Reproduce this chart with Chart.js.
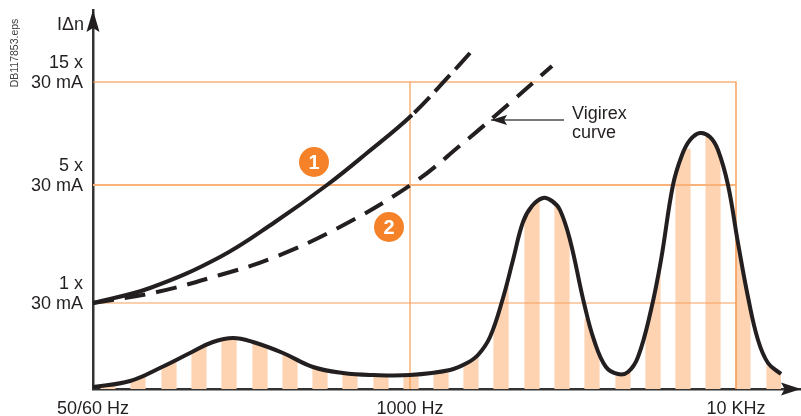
<!DOCTYPE html>
<html>
<head>
<meta charset="utf-8">
<style>
  html, body { margin: 0; padding: 0; background: #fff; }
  canvas { display: block; }
</style>
<script src="https://cdn.jsdelivr.net/npm/chart.js@4/dist/chart.umd.min.js"></script>
</head>
<body>
<canvas id="chart" width="801" height="416"></canvas>
<script>
// axis ticks (schematic axes, so the units are just distance along each axis)
const xTickValues = [0, 317, 643];
const xTickLabels = ["50/60 Hz", "1000 Hz", "10 KHz"];
const yTickValues = [86, 204, 307];
const yTickLabels = [["1 x", "30 mA"], ["5 x", "30 mA"], ["15 x", "30 mA"]];
const xMax = 708;
const yMax = 379;

// harmonics bars
const barX = [15, 45, 76, 106, 136, 167, 197, 227, 257, 288, 318, 348, 378, 408, 439, 469, 499, 530, 560, 590, 620, 650, 681];
const barY = [6, 12, 28, 45, 52, 48, 37, 24, 17, 15, 15, 18, 32, 112, 192, 185, 70, 18, 120, 240, 256, 170, 26];

// leakage spectrum curve
const spectrumX = [0, 37, 69, 99, 120, 140, 160, 190, 220, 250, 280, 317, 357, 374, 385, 397, 410, 420, 430, 439, 450, 459, 467, 477, 491, 501, 513, 525, 535, 545, 558, 568, 580, 589, 597, 607, 617, 625, 635, 645, 655, 665, 675, 688];
const spectrumY = [2, 8, 22, 37, 47, 51, 47, 36, 22, 16, 14, 14, 19, 26, 34, 52, 91, 129, 167, 183, 191, 188, 179, 149, 86, 49, 22, 15, 17, 32, 79, 129, 204, 234, 249, 256, 252, 239, 204, 146, 92, 49, 26, 15];

// curve 1, solid up to 1000 Hz then dashed
const curve1X = [0, 57, 127, 182, 234, 274, 319, 357, 377];
const curve1Y = [86, 101, 132, 167, 204, 236, 274, 314, 336];
const curve1SolidEnd = 319;

// curve 2, the Vigirex curve
const curve2X = [0, 64, 127, 177, 245, 319, 369, 417, 459];
const curve2Y = [86, 97, 114, 130, 161, 205, 245, 286, 323];

// reference grid, from the tick values
const gridRight = xTickValues[2];
const gridTop = yTickValues[2];

// numbered marks and note
const badgeX = [221, 296];
const badgeY = [227, 162];
const badgeLabels = ["1", "2"];
const noteX = [398, 471];
const noteY = [269, 269];

const FONT = '"Liberation Sans", Arial, sans-serif';
const INK = "#231f20";
const toPoints = (xs, ys) => xs.map((x, i) => ({ x, y: ys[i] }));

const gridLine = (xs, ys, color, width) => ({
  type: "line",
  data: toPoints(xs, ys),
  borderColor: color,
  borderWidth: width,
  pointRadius: 0,
  tension: 0,
  order: 3,
});

const curve = (xs, ys, dash) => ({
  type: "line",
  data: toPoints(xs, ys),
  borderColor: INK,
  borderWidth: 4,
  borderDash: dash,
  pointRadius: 0,
  tension: 0.4,
  clip: false,
  order: 2,
});

const spectrumIndex = 0;
const barIndex = 1;

const datasets = [
  curve(spectrumX, spectrumY, []),
  {
    type: "bar",
    data: toPoints(barX, barY),
    backgroundColor: "#fdd3b1",
    barThickness: 14.5,
    order: 4,
  },
  gridLine([0, gridRight], [yTickValues[0], yTickValues[0]], "#f7a05e", 1.2),
  gridLine([0, gridRight], [yTickValues[1], yTickValues[1]], "#f9b27c", 2),
  gridLine([0, gridRight, gridRight], [gridTop, gridTop, 0], "#f68b38", 1.2),
  gridLine([xTickValues[1], xTickValues[1]], [0, gridTop], "#f58a33", 1),
  {
    ...curve(curve1X, curve1Y, []),
    // same line all the way, so there is no kink where the dashes begin
    segment: {
      borderDash: (ctx) => (ctx.p0.parsed.x >= curve1SolidEnd ? [22, 8] : undefined),
      borderDashOffset: (ctx) => (ctx.p0.parsed.x >= curve1SolidEnd ? 27 : undefined),
    },
  },
  curve(curve2X, curve2Y, [21, 11]),
  {
    type: "line",
    data: toPoints(noteX, noteY),
    borderColor: "#77787b",
    borderWidth: 2,
    pointRadius: 0,
    order: 2,
  },
  {
    type: "line",
    data: toPoints(badgeX, badgeY),
    showLine: false,
    pointRadius: 15,
    pointHoverRadius: 15,
    pointBackgroundColor: "#f58228",
    pointBorderWidth: 0,
    order: 1,
  },
];

// bars stop at the spectrum curve
const clipBars = {
  id: "clipBars",
  beforeDatasetDraw(chart, args) {
    if (args.index !== barIndex) return;
    const line = chart.getDatasetMeta(spectrumIndex);
    line.dataset.updateControlPoints(chart.chartArea, "x");
    const pts = line.data;
    const bottom = chart.scales.y.getPixelForValue(0);
    const ctx = chart.ctx;
    ctx.save();
    ctx.beginPath();
    ctx.moveTo(pts[0].x, bottom);
    ctx.lineTo(pts[0].x, pts[0].y);
    for (let i = 1; i < pts.length; i++) {
      ctx.bezierCurveTo(pts[i - 1].cp2x, pts[i - 1].cp2y, pts[i].cp1x, pts[i].cp1y, pts[i].x, pts[i].y);
    }
    ctx.lineTo(pts[pts.length - 1].x, bottom);
    ctx.closePath();
    ctx.clip();
  },
  afterDatasetDraw(chart, args) {
    if (args.index === barIndex) chart.ctx.restore();
  },
};

const arrowHead = (ctx, tipX, tipY, dx, dy, length, half) => {
  ctx.beginPath();
  ctx.moveTo(tipX, tipY);
  ctx.lineTo(tipX - dx * length - dy * half, tipY - dy * length - dx * half);
  ctx.lineTo(tipX - dx * length * 0.82, tipY - dy * length * 0.82);
  ctx.lineTo(tipX - dx * length + dy * half, tipY - dy * length + dx * half);
  ctx.closePath();
  ctx.fill();
};

// arrows and free text around the plot
const annotations = {
  id: "annotations",
  afterDraw(chart) {
    const { ctx, scales } = chart;
    const xs = scales.x;
    const ys = scales.y;
    ctx.save();
    ctx.fillStyle = INK;
    arrowHead(ctx, xs.getPixelForValue(0), ys.getPixelForValue(yMax), 0, -1, 22, 6.5);
    arrowHead(ctx, xs.getPixelForValue(xMax), ys.getPixelForValue(0), 1, 0, 20, 6.5);
    arrowHead(ctx, xs.getPixelForValue(noteX[0]), ys.getPixelForValue(noteY[0]), -1, 0, 16, 5);

    ctx.textBaseline = "middle";
    ctx.textAlign = "left";
    ctx.font = `18px ${FONT}`;
    ctx.fillText("I\u0394n", 57, 25);
    ctx.fillText("Vigirex", 572, 114);
    ctx.fillText("curve", 572, 133);

    ctx.fillStyle = "#fff";
    ctx.textAlign = "center";
    ctx.font = `bold 20px ${FONT}`;
    const badges = chart.getDatasetMeta(datasets.length - 1).data;
    badges.forEach((p, i) => ctx.fillText(badgeLabels[i], p.x, p.y + 1));

    ctx.fillStyle = "#414042";
    ctx.font = `10.5px ${FONT}`;
    ctx.translate(15, 53);
    ctx.rotate(-Math.PI / 2);
    ctx.fillText("DB117853.eps", 0, 0);
    ctx.restore();
  },
};

new Chart(document.getElementById("chart"), {
  data: { datasets },
  plugins: [clipBars, annotations],
  options: {
    responsive: false,
    animation: false,
    events: [],
    // the badge points would otherwise pad the plot area by their radius
    layout: { autoPadding: false, padding: { top: 10 } },
    plugins: { legend: { display: false }, tooltip: { enabled: false } },
    scales: {
      x: {
        type: "linear",
        offset: false,
        min: 0,
        max: xMax,
        afterBuildTicks: (scale) => { scale.ticks = xTickValues.map((value) => ({ value })); },
        // tick label overhang must not shrink the plot area
        afterFit: (scale) => {
          scale.height = 27;
          scale.paddingLeft = 0;
          scale.paddingRight = 0;
        },
        grid: { display: false, drawTicks: false },
        border: { color: "#333", width: 2.5 },
        ticks: {
          autoSkip: false,
          maxRotation: 0,
          padding: 9,
          color: INK,
          font: { family: FONT, size: 18 },
          callback: (value) => xTickLabels[xTickValues.indexOf(value)],
        },
      },
      y: {
        type: "linear",
        min: 0,
        max: yMax,
        afterBuildTicks: (scale) => { scale.ticks = yTickValues.map((value) => ({ value })); },
        afterFit: (scale) => {
          scale.width = 93;
          scale.paddingTop = 0;
          scale.paddingBottom = 0;
        },
        grid: { display: false, drawTicks: false },
        border: { color: "#333", width: 2.5 },
        ticks: {
          autoSkip: false,
          padding: 10,
          labelOffset: -9,
          color: INK,
          font: { family: FONT, size: 18, lineHeight: 1.1 },
          callback: (value) => yTickLabels[yTickValues.indexOf(value)],
        },
      },
    },
  },
});
</script>
</body>
</html>
